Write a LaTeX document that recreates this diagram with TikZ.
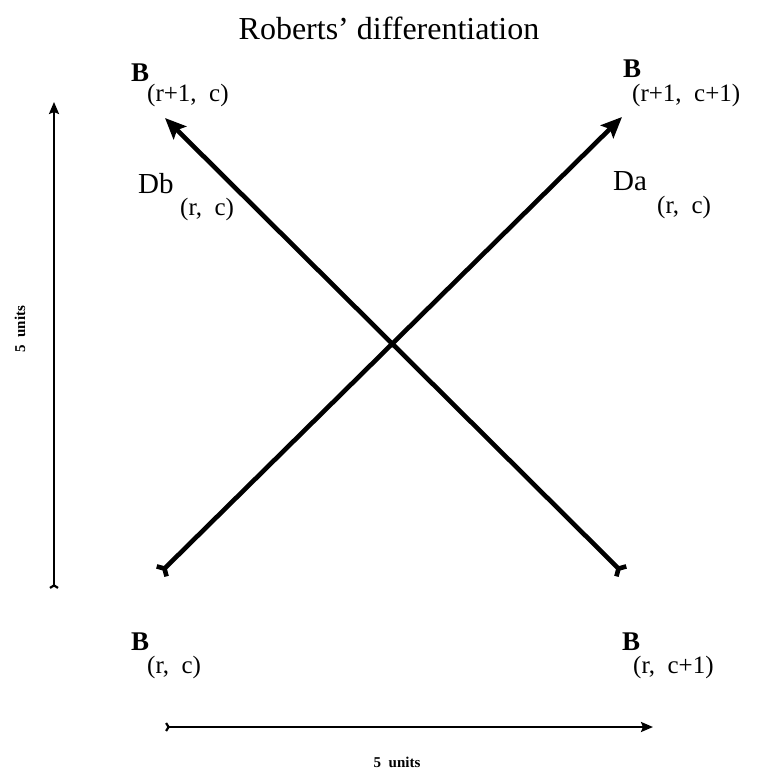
\documentclass[tikz,border=0pt]{standalone}
\usepackage{fontspec}
\setmainfont{Liberation Serif}
\usetikzlibrary{arrows.meta,positioning}

\begin{document}
\begin{tikzpicture}[
    x=1pt, y=-1pt,
    lbl/.style={anchor=base west, inner sep=0pt, font=\fontsize{27}{27}\selectfont\bfseries},
    sublbl/.style={anchor=base west, inner sep=0pt, font=\fontsize{25}{25}\selectfont},
    dlbl/.style={anchor=base west, inner sep=0pt, font=\fontsize{29}{29}\selectfont},
    unitlbl/.style={inner sep=0pt, font=\fontsize{15}{15}\selectfont\bfseries},
    diag/.style={line width=4.6pt, {Straight Barb[reversed,length=4pt,width=14pt]}-{Stealth[length=21pt,width=18pt,inset=4pt]}},
    axis/.style={line width=2.2pt, {Straight Barb[reversed,length=2.5pt,width=8pt]}-{Stealth[length=12pt,width=10pt,inset=2pt]}}
]
\useasboundingbox (0,0) rectangle (761,772);

% title
\node[inner sep=0pt, anchor=base, font=\fontsize{32}{32}\selectfont] (title) at (389,39) {Roberts' differentiation};

% end points of the two differences
\coordinate (rc) at (160,573);
\coordinate (rc1) at (623,573);
\coordinate (r1c) at (165,118);
\coordinate (r1c1) at (622,117);

\draw[diag] (rc) -- (r1c1);
\draw[diag] (rc1) -- (r1c);

% pixel labels
\node[lbl] (b-r1c) at (131,81) {B};
\node[sublbl] (s-r1c) at (147,101) {(r+1,\ \ c)};
\node[lbl] (b-r1c1) at (623,77) {B};
\node[sublbl] (s-r1c1) at (632,101) {(r+1,\ \ c+1)};
\node[lbl] (b-rc) at (131,650) {B};
\node[sublbl] (s-rc) at (147,673) {(r,\ \ c)};
\node[lbl] (b-rc1) at (622,650) {B};
\node[sublbl] (s-rc1) at (633,673) {(r,\ \ c+1)};

% difference labels
\node[dlbl] (db) at (138,193) {Db};
\node[sublbl] (s-db) at (180,215) {(r,\ \ c)};
\node[dlbl] (da) at (613,190) {Da};
\node[sublbl] (s-da) at (657,213) {(r,\ \ c)};

% scale bars
\coordinate (vs) at (54,589);
\coordinate (ve) at (54,102);
\coordinate (hs) at (165,727);
\coordinate (he) at (653,727);
\draw[axis] (vs) -- (ve);
\draw[axis] (hs) -- (he);
\node[unitlbl, rotate=90] (vunits) at (20,329) {5\ \ units};
\node[unitlbl] (hunits) at (397,762) {5\ \ units};
\end{tikzpicture}
\end{document}
